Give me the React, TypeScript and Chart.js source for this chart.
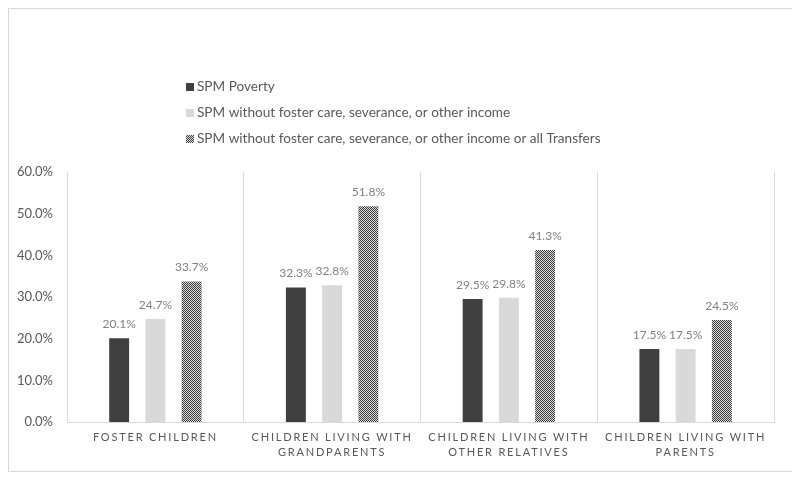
import React, { useEffect, useRef } from "react";
import { Chart, registerables } from "chart.js";

Chart.register(...registerables);

const categories: string[][] = [
  ["FOSTER CHILDREN"],
  ["CHILDREN LIVING WITH", "GRANDPARENTS"],
  ["CHILDREN LIVING WITH", "OTHER RELATIVES"],
  ["CHILDREN LIVING WITH", "PARENTS"],
];
const seriesLabels = [
  "SPM Poverty",
  "SPM without foster care, severance, or other income",
  "SPM without foster care, severance, or other income or all Transfers",
];
const spmPoverty = [20.1, 32.3, 29.5, 17.5];
const spmWithoutFoster = [24.7, 32.8, 29.8, 17.5];
const spmWithoutAll = [33.7, 51.8, 41.3, 24.5];
const yTicks = [0, 10, 20, 30, 40, 50, 60];

const FONT = "Lato, 'Open Sans', sans-serif";
const TEXT = "#595959";
const GRID = "#d9d9d9";

function makePattern(): CanvasPattern | string {
  const c = document.createElement("canvas");
  c.width = 4;
  c.height = 4;
  const g = c.getContext("2d");
  if (!g) return "#8c8c8c";
  for (let y = 0; y < 4; y++) {
    for (let x = 0; x < 4; x++) {
      g.fillStyle = (x + y) % 2 === 0 ? "#3c3c3c" : "#d9d9d9";
      g.fillRect(x, y, 1, 1);
    }
  }
  const p = g.createPattern(c, "repeat");
  return p || "#8c8c8c";
}

export default function App() {
  const ref = useRef<HTMLCanvasElement | null>(null);

  useEffect(() => {
    if (!ref.current) return;
    const pattern = makePattern();
    const colors: (string | CanvasPattern)[] = ["#404040", "#d9d9d9", pattern];

    const legendPlugin = {
      id: "customLegend",
      afterDraw(chart: any) {
        const ctx = chart.ctx as CanvasRenderingContext2D;
        ctx.save();
        ctx.letterSpacing = "0px";
        ctx.font = `13.6px ${FONT}`;
        ctx.textBaseline = "middle";
        ctx.textAlign = "left";
        chart.data.datasets.forEach((ds: any, i: number) => {
          const cy = 78 + i * 26;
          ctx.fillStyle = colors[i] as any;
          ctx.fillRect(177, cy - 4, 8, 8);
          ctx.fillStyle = TEXT;
          ctx.fillText(ds.label, 188, cy);
        });
        ctx.restore();
      },
    };

    const dataLabelPlugin = {
      id: "dataLabels",
      afterDatasetsDraw(chart: any) {
        const ctx = chart.ctx as CanvasRenderingContext2D;
        ctx.save();
        ctx.font = `12px ${FONT}`;
        ctx.fillStyle = "#808080";
        ctx.textAlign = "center";
        ctx.textBaseline = "middle";
        chart.data.datasets.forEach((ds: any, di: number) => {
          const meta = chart.getDatasetMeta(di);
          meta.data.forEach((el: any, i: number) => {
            ctx.fillText(`${Number(ds.data[i]).toFixed(1)}%`, el.x, el.y - 14);
          });
        });
        ctx.restore();
        // letter spacing for x-axis labels, which are drawn after the datasets
        ctx.letterSpacing = "1.8px";
      },
      afterDraw(chart: any) {
        chart.ctx.letterSpacing = "0px";
      },
    };

    const chart = new Chart(ref.current, {
      type: "bar",
      data: {
        labels: categories,
        datasets: [
          { label: seriesLabels[0], data: spmPoverty, backgroundColor: colors[0] as any },
          { label: seriesLabels[1], data: spmWithoutFoster, backgroundColor: colors[1] as any },
          { label: seriesLabels[2], data: spmWithoutAll, backgroundColor: colors[2] as any },
        ],
      },
      options: {
        responsive: false,
        animation: false,
        devicePixelRatio: 1,
        layout: { padding: { top: 163, right: 19, left: 0, bottom: 0 } },
        datasets: {
          bar: { categoryPercentage: 0.615, barPercentage: 0.55 },
        },
        plugins: {
          legend: { display: false },
          tooltip: { enabled: false },
        },
        scales: {
          x: {
            grid: { color: GRID, lineWidth: 1, drawTicks: false, offset: true },
            border: { color: GRID, width: 1 },
            ticks: {
              z: 1,
              color: TEXT,
              font: { family: FONT, size: 11, lineHeight: 1.36 },
              padding: 8,
              maxRotation: 0,
              minRotation: 0,
              autoSkip: false,
            },
            afterFit(scale: any) {
              scale.height = 49;
            },
          },
          y: {
            min: 0,
            max: 60,
            grid: { display: false },
            border: { display: false },
            afterBuildTicks(scale: any) {
              scale.ticks = yTicks.map((v) => ({ value: v }));
            },
            ticks: {
              color: TEXT,
              font: { family: FONT, size: 13 },
              padding: 6,
              callback: (v: any) => `${Number(v).toFixed(1)}%`,
            },
            afterFit(scale: any) {
              scale.width = 58;
            },
          },
        },
      },
      plugins: [dataLabelPlugin, legendPlugin],
    });
    return () => chart.destroy();
  }, []);

  return (
    <div style={{ width: 784, height: 462, border: `1px solid ${GRID}`, background: "#fff" }}>
      <canvas ref={ref} width={784} height={462} style={{ display: "block" }} />
    </div>
  );
}
